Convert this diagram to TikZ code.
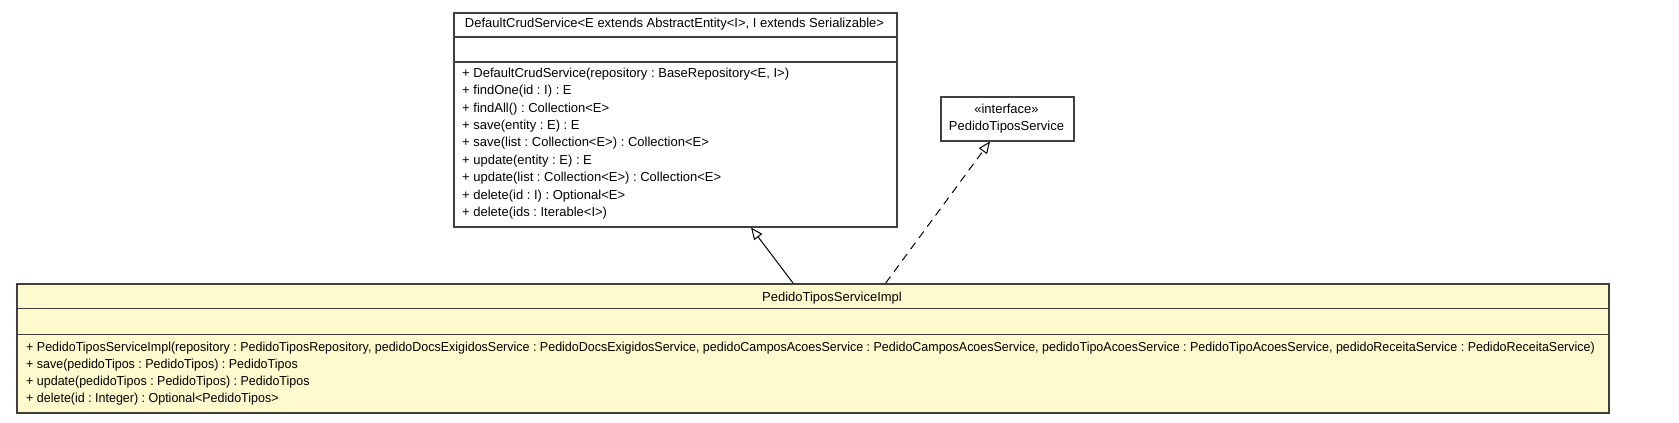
\documentclass[tikz,border=0pt]{standalone}
\usepackage{fontspec}
\setmainfont{Liberation Sans}
\usetikzlibrary{arrows.meta}
\definecolor{umlfill}{HTML}{FFFACD}
\definecolor{umlline}{HTML}{404040}
\frenchspacing
\newcommand{\narrowtxt}[1]{\scalebox{0.96}[1]{#1}}
\begin{document}
\begin{tikzpicture}[x=1pt,y=-1pt,
  box/.style={draw=umlline, line width=1.5pt, anchor=north west, inner sep=0pt},
  sep/.style={draw=umlline, line width=1.5pt},
  txt/.style={font=\fontsize{13}{15}\selectfont\frenchspacing, inner sep=0pt, anchor=base west},
  ctxt/.style={font=\fontsize{13}{15}\selectfont\frenchspacing, inner sep=0pt, anchor=base},
  gen/.style={draw=black, line width=1pt, -{Triangle[open,length=12pt,width=10pt,fill=white]}},
  realz/.style={gen, dash pattern=on 8pt off 6pt}
]
\fill[white] (0,0) rectangle (1679,423);
\useasboundingbox (0,0) rectangle (1679,423);

% DefaultCrudService
\node[box, fill=white, minimum width=443pt, minimum height=214pt] (dcs) at (453,12) {};
\draw[sep] (453,37) -- (896,37);
\draw[sep] (453,62) -- (896,62);
\node[ctxt] (dcsname) at (674.5,27.3) {DefaultCrudService<E extends AbstractEntity<I>, I extends Serializable>};
\node[txt] (m1) at (462,77.3) {+ DefaultCrudService(repository : BaseRepository<E, I>)};
\node[txt] (m2) at (462,94.7) {+ findOne(id : I) : E};
\node[txt] (m3) at (462,112.1) {+ findAll() : Collection<E>};
\node[txt] (m4) at (462,129.5) {+ save(entity : E) : E};
\node[txt] (m5) at (462,146.9) {+ save(list : Collection<E>) : Collection<E>};
\node[txt] (m6) at (462,164.3) {+ update(entity : E) : E};
\node[txt] (m7) at (462,181.7) {+ update(list : Collection<E>) : Collection<E>};
\node[txt] (m8) at (462,199.1) {+ delete(id : I) : Optional<E>};
\node[txt] (m9) at (462,216.5) {+ delete(ids : Iterable<I>)};

% Interface
\node[box, fill=white, minimum width=133pt, minimum height=44pt] (iface) at (940,96) {};
\node[ctxt] (istereo) at (1006.5,113.3) {«interface»};
\node[ctxt] (iname) at (1006.5,130) {PedidoTiposService};

% Impl
\node[box, fill=umlfill, minimum width=1592pt, minimum height=129pt] (impl) at (16,283) {};
\draw[sep] (16,308.5) -- (1608,308.5);
\draw[sep] (16,334.5) -- (1608,334.5);
\node[ctxt] (implname) at (832,301) {PedidoTiposServiceImpl};
\node[txt] (p1) at (26,351) {\narrowtxt{+ PedidoTiposServiceImpl(repository : PedidoTiposRepository, pedidoDocsExigidosService : PedidoDocsExigidosService, pedidoCamposAcoesService : PedidoCamposAcoesService, pedidoTipoAcoesService : PedidoTipoAcoesService, pedidoReceitaService : PedidoReceitaService)}};
\node[txt] (p2) at (26,368.3) {\narrowtxt{+ save(pedidoTipos : PedidoTipos) : PedidoTipos}};
\node[txt] (p3) at (26,385.6) {\narrowtxt{+ update(pedidoTipos : PedidoTipos) : PedidoTipos}};
\node[txt] (p4) at (26,402.9) {\narrowtxt{+ delete(id : Integer) : Optional<PedidoTipos>}};

% Connectors
\draw[gen] ([xshift=777pt]impl.north west) -- ([xshift=298pt]dcs.south west);
\draw[realz] ([xshift=869.7pt]impl.north west) -- ([xshift=50pt]iface.south west);
\end{tikzpicture}
\end{document}
